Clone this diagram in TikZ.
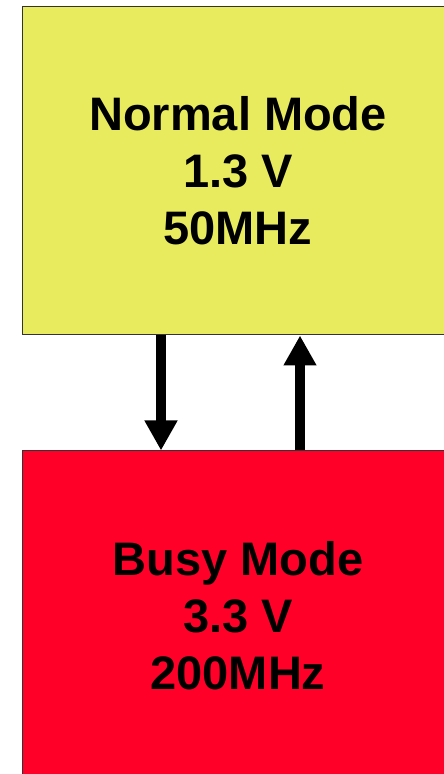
\documentclass[tikz,border=0pt]{standalone}
\usepackage{fontspec}
\setmainfont{Liberation Sans}
\usetikzlibrary{positioning, arrows.meta}
\definecolor{modeyellow}{HTML}{E8EB5E}
\definecolor{modered}{HTML}{FF0028}

\begin{document}
\begin{tikzpicture}[x=1pt, y=1pt,
    modebox/.style={rectangle, draw=black!80, line width=1pt, minimum width=432pt, align=center, font=\fontsize{47}{57}\selectfont\bfseries},
    modearrow/.style={line width=10pt, -{Triangle[width=31pt, length=30pt]}}]
    \useasboundingbox (0,0) rectangle (444,774);
    \clip (0,0) rectangle (444,774);
    \node[modebox, fill=modeyellow, minimum height=328pt] (normal) at (238,603) {Normal Mode\\1.3 V\\50MHz};
    \node[modebox, fill=modered, minimum height=330pt, below=115pt of normal] (busy) {Busy Mode\\3.3 V\\200MHz};
    \draw[modearrow] ([xshift=-77pt]normal.south) -- ([xshift=-77pt]busy.north);
    \draw[modearrow] ([xshift=62pt]busy.north) -- ([xshift=62pt]normal.south);
\end{tikzpicture}
\end{document}
